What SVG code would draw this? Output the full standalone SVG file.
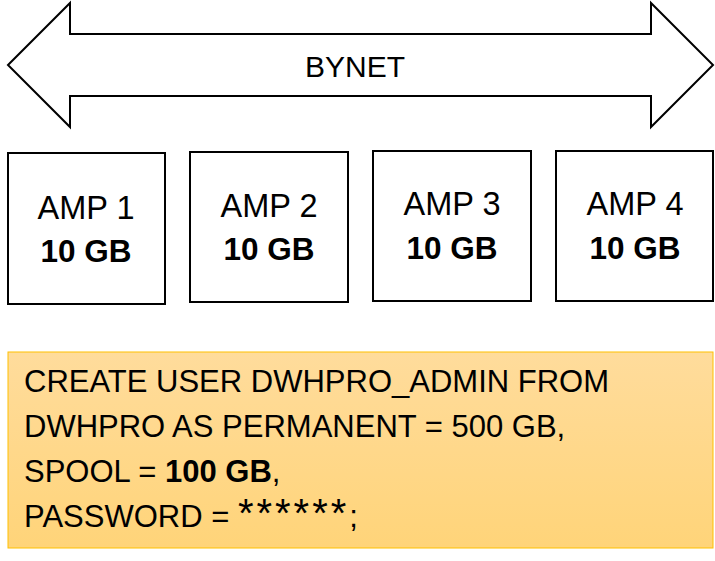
<svg xmlns="http://www.w3.org/2000/svg" width="715" height="561" viewBox="0 0 715 561">
<style>
.t{font-family:"Liberation Sans",Arial,sans-serif;font-size:31px;fill:#000}
.c{text-anchor:middle}
.a{font-size:32.5px}
.b{font-weight:bold}
.g{font-weight:bold;font-size:31.5px}
.s{font-size:40px;letter-spacing:3px}
.box{fill:#fff;stroke:#000;stroke-width:2}
</style>
<defs>
<linearGradient id="yg" x1="0" y1="0" x2="0" y2="1">
<stop offset="0" stop-color="#FFDC9C"/>
<stop offset="1" stop-color="#FFD479"/>
</linearGradient>
</defs>
<rect width="715" height="561" fill="#fff"/>
<g id="bynet">
<polygon points="8,65 70,3 70,34 651,34 651,3 713,65 651,127 651,96 70,96 70,127" fill="#fff" stroke="#000" stroke-width="2"/>
<text class="t c" x="355" y="77" style="font-size:30px">BYNET</text>
</g>
<g id="amp1">
<rect class="box" x="8" y="153" width="157" height="151"/>
<text class="t c a" x="86" y="219">AMP 1</text>
<text class="t c g" x="86" y="262">10 GB</text>
</g>
<g id="amp2">
<rect class="box" x="190" y="152" width="158" height="150"/>
<text class="t c a" x="269" y="217">AMP 2</text>
<text class="t c g" x="269" y="260">10 GB</text>
</g>
<g id="amp3">
<rect class="box" x="373" y="151" width="158" height="150"/>
<text class="t c a" x="452" y="215">AMP 3</text>
<text class="t c g" x="452" y="259">10 GB</text>
</g>
<g id="amp4">
<rect class="box" x="556" y="151" width="157" height="150"/>
<text class="t c a" x="635" y="215">AMP 4</text>
<text class="t c g" x="635" y="259">10 GB</text>
</g>
<g id="connectors"></g>
<g id="sql">
<rect x="8" y="352" width="705" height="196" fill="url(#yg)" stroke="#FFC000" stroke-width="1"/>
<text class="t" x="24" y="392">CREATE USER DWHPRO_ADMIN FROM</text>
<text class="t" x="24" y="437">DWHPRO AS PERMANENT = 500 GB,</text>
<text class="t" x="24" y="482">SPOOL = <tspan class="b">100 GB</tspan>,</text>
<text class="t" x="24" y="527">PASSWORD = <tspan class="s">******</tspan>;</text>
</g>
</svg>
